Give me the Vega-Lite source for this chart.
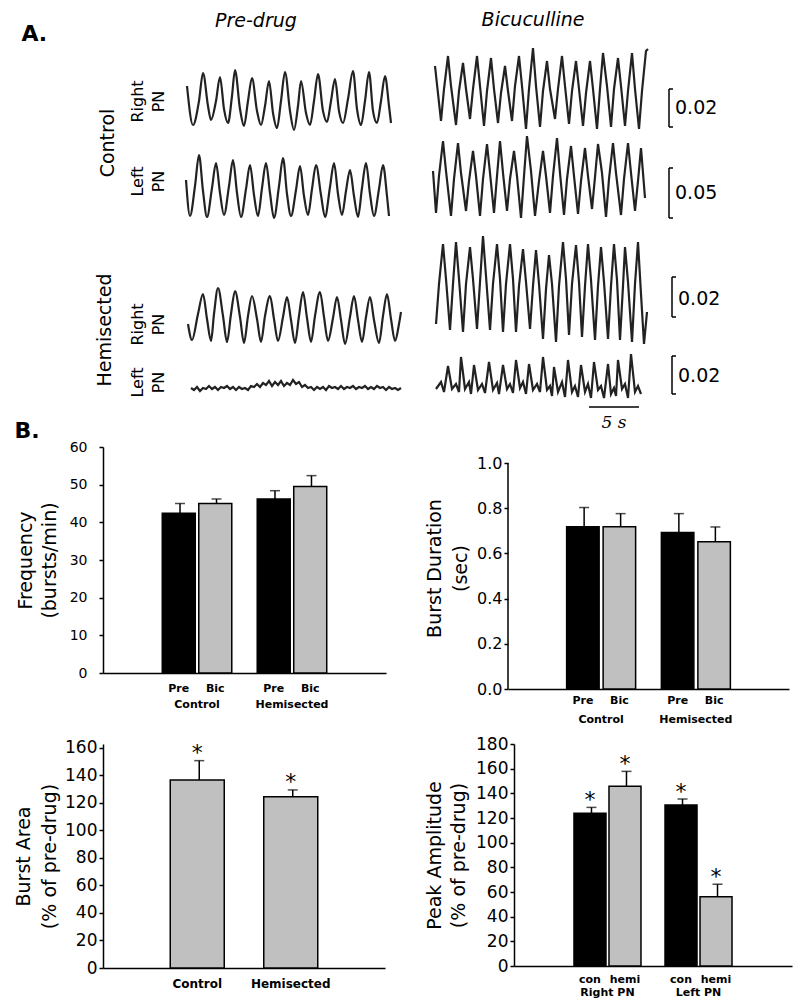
{
"$schema":"https://vega.github.io/schema/vega-lite/v6.json",
"background":"white",
"padding":{"left":14,"top":10,"right":5,"bottom":5},
"config":{
 "font":"DejaVu Sans",
 "view":{"stroke":null},
 "axis":{"grid":false,"labelOverlap":false,"domainColor":"black","tickColor":"black","labelColor":"black","titleColor":"black","titleFontWeight":"normal","labelFont":"DejaVu Sans","titleFont":"DejaVu Sans"},
 "title":{"color":"black","font":"DejaVu Sans","fontWeight":"normal"},
 "line":{"color":"#222","strokeWidth":2.2},
 "rule":{"color":"black"},
 "text":{"color":"black"}
},
"datasets":{
 "pre_cr":[{"t":0.1,"v":47},{"t":0.7,"v":8},{"t":1.3,"v":32},{"t":1.7,"v":60},{"t":2.2,"v":27},{"t":2.5,"v":13},{"t":3.0,"v":32},{"t":3.4,"v":56},{"t":3.8,"v":24},{"t":4.2,"v":10},{"t":4.6,"v":37},{"t":4.9,"v":63},{"t":5.4,"v":24},{"t":5.8,"v":7},{"t":6.2,"v":32},{"t":6.6,"v":55},{"t":7.1,"v":22},{"t":7.5,"v":8},{"t":7.9,"v":27},{"t":8.3,"v":52},{"t":8.7,"v":20},{"t":9.1,"v":5},{"t":9.5,"v":32},{"t":9.9,"v":61},{"t":10.4,"v":22},{"t":10.8,"v":3},{"t":11.2,"v":27},{"t":11.5,"v":52},{"t":12.0,"v":20},{"t":12.4,"v":8},{"t":12.8,"v":32},{"t":13.2,"v":59},{"t":13.7,"v":22},{"t":14.1,"v":11},{"t":14.5,"v":32},{"t":14.9,"v":54},{"t":15.3,"v":22},{"t":15.7,"v":10},{"t":16.2,"v":34},{"t":16.7,"v":62},{"t":17.1,"v":24},{"t":17.5,"v":8},{"t":17.9,"v":32},{"t":18.3,"v":61},{"t":18.7,"v":22},{"t":19.1,"v":10},{"t":19.5,"v":32},{"t":19.9,"v":57},{"t":20.3,"v":27},{"t":20.5,"v":10}],
 "pre_cl":[{"t":0.0,"v":41},{"t":0.4,"v":5},{"t":0.9,"v":35},{"t":1.3,"v":66},{"t":1.7,"v":30},{"t":2.1,"v":4},{"t":2.6,"v":33},{"t":3.0,"v":58},{"t":3.4,"v":28},{"t":3.8,"v":6},{"t":4.3,"v":35},{"t":4.7,"v":61},{"t":5.1,"v":28},{"t":5.5,"v":4},{"t":6.0,"v":32},{"t":6.4,"v":56},{"t":6.8,"v":26},{"t":7.2,"v":5},{"t":7.6,"v":33},{"t":8.0,"v":58},{"t":8.4,"v":28},{"t":8.8,"v":3},{"t":9.3,"v":35},{"t":9.7,"v":63},{"t":10.1,"v":27},{"t":10.5,"v":5},{"t":11.0,"v":31},{"t":11.4,"v":55},{"t":11.8,"v":25},{"t":12.2,"v":6},{"t":12.6,"v":32},{"t":13.0,"v":56},{"t":13.5,"v":26},{"t":13.9,"v":4},{"t":14.4,"v":34},{"t":14.8,"v":58},{"t":15.2,"v":27},{"t":15.6,"v":6},{"t":16.0,"v":30},{"t":16.4,"v":51},{"t":16.8,"v":25},{"t":17.2,"v":4},{"t":17.6,"v":33},{"t":18.0,"v":58},{"t":18.4,"v":27},{"t":18.8,"v":5},{"t":19.3,"v":32},{"t":19.7,"v":56},{"t":20.1,"v":25},{"t":20.3,"v":5}],
 "pre_hr":[{"t":0.2,"v":25},{"t":0.6,"v":9},{"t":1.2,"v":35},{"t":1.7,"v":55},{"t":2.1,"v":30},{"t":2.5,"v":8},{"t":2.8,"v":35},{"t":3.2,"v":61},{"t":3.7,"v":33},{"t":4.1,"v":7},{"t":4.5,"v":35},{"t":4.9,"v":58},{"t":5.4,"v":32},{"t":5.8,"v":6},{"t":6.2,"v":33},{"t":6.6,"v":53},{"t":7.1,"v":30},{"t":7.5,"v":7},{"t":7.9,"v":33},{"t":8.4,"v":53},{"t":8.8,"v":30},{"t":9.2,"v":8},{"t":9.7,"v":32},{"t":10.1,"v":52},{"t":10.5,"v":29},{"t":10.9,"v":6},{"t":11.3,"v":33},{"t":11.7,"v":57},{"t":12.1,"v":31},{"t":12.5,"v":7},{"t":12.9,"v":33},{"t":13.4,"v":57},{"t":13.8,"v":32},{"t":14.2,"v":8},{"t":14.7,"v":31},{"t":15.1,"v":52},{"t":15.5,"v":29},{"t":15.9,"v":5},{"t":16.4,"v":32},{"t":16.8,"v":53},{"t":17.2,"v":29},{"t":17.6,"v":7},{"t":18.0,"v":32},{"t":18.4,"v":52},{"t":18.8,"v":29},{"t":19.3,"v":6},{"t":19.7,"v":33},{"t":20.1,"v":55},{"t":20.5,"v":30},{"t":20.9,"v":8},{"t":21.3,"v":25},{"t":21.5,"v":37}],
 "pre_hl":[{"t":0.5,"v":14},{"t":0.8,"v":12},{"t":1.1,"v":15},{"t":1.4,"v":11},{"t":1.7,"v":14},{"t":2.0,"v":13},{"t":2.3,"v":16},{"t":2.6,"v":13},{"t":2.9,"v":15},{"t":3.2,"v":12},{"t":3.5,"v":15},{"t":3.8,"v":14},{"t":4.1,"v":16},{"t":4.4,"v":13},{"t":4.7,"v":15},{"t":5.0,"v":12},{"t":5.3,"v":15},{"t":5.6,"v":13},{"t":5.9,"v":14},{"t":6.2,"v":12},{"t":6.5,"v":16},{"t":6.8,"v":15},{"t":7.1,"v":18},{"t":7.4,"v":15},{"t":7.7,"v":19},{"t":8.0,"v":17},{"t":8.3,"v":21},{"t":8.6,"v":16},{"t":8.9,"v":20},{"t":9.2,"v":17},{"t":9.5,"v":21},{"t":9.8,"v":16},{"t":10.1,"v":19},{"t":10.4,"v":17},{"t":10.7,"v":22},{"t":11.0,"v":18},{"t":11.3,"v":20},{"t":11.6,"v":15},{"t":11.9,"v":17},{"t":12.2,"v":14},{"t":12.5,"v":15},{"t":12.8,"v":12},{"t":13.1,"v":15},{"t":13.4,"v":13},{"t":13.7,"v":15},{"t":14.0,"v":12},{"t":14.3,"v":16},{"t":14.6,"v":14},{"t":14.9,"v":15},{"t":15.2,"v":13},{"t":15.5,"v":16},{"t":15.8,"v":13},{"t":16.1,"v":15},{"t":16.4,"v":14},{"t":16.7,"v":16},{"t":17.0,"v":13},{"t":17.3,"v":15},{"t":17.6,"v":14},{"t":17.9,"v":16},{"t":18.2,"v":13},{"t":18.5,"v":15},{"t":18.8,"v":13},{"t":19.1,"v":16},{"t":19.4,"v":14},{"t":19.7,"v":15},{"t":20.0,"v":12},{"t":20.3,"v":15},{"t":20.6,"v":13},{"t":20.9,"v":14},{"t":21.2,"v":12},{"t":21.5,"v":14}],
 "bic_cr":[{"t":0.2,"v":67},{"t":0.8,"v":12},{"t":1.1,"v":44},{"t":1.5,"v":77},{"t":1.8,"v":47},{"t":2.3,"v":8},{"t":2.6,"v":42},{"t":3.0,"v":70},{"t":3.3,"v":44},{"t":3.7,"v":14},{"t":4.0,"v":44},{"t":4.4,"v":77},{"t":4.7,"v":47},{"t":5.1,"v":7},{"t":5.4,"v":42},{"t":5.8,"v":75},{"t":6.1,"v":44},{"t":6.5,"v":10},{"t":6.8,"v":40},{"t":7.2,"v":67},{"t":7.5,"v":42},{"t":7.9,"v":12},{"t":8.2,"v":47},{"t":8.6,"v":77},{"t":8.9,"v":47},{"t":9.3,"v":4},{"t":9.6,"v":44},{"t":10.0,"v":85},{"t":10.3,"v":47},{"t":10.7,"v":6},{"t":11.0,"v":42},{"t":11.4,"v":72},{"t":11.7,"v":44},{"t":12.2,"v":14},{"t":12.5,"v":44},{"t":12.9,"v":77},{"t":13.2,"v":47},{"t":13.6,"v":9},{"t":13.9,"v":42},{"t":14.3,"v":72},{"t":14.6,"v":44},{"t":15.0,"v":7},{"t":15.3,"v":40},{"t":15.7,"v":72},{"t":16.0,"v":44},{"t":16.4,"v":4},{"t":16.7,"v":44},{"t":17.0,"v":80},{"t":17.4,"v":47},{"t":17.8,"v":6},{"t":18.1,"v":44},{"t":18.5,"v":75},{"t":18.8,"v":47},{"t":19.2,"v":7},{"t":19.5,"v":42},{"t":19.9,"v":80},{"t":20.2,"v":44},{"t":20.6,"v":4},{"t":20.9,"v":42},{"t":21.3,"v":82},{"t":21.5,"v":84}],
 "bic_cl":[{"t":0.0,"v":50},{"t":0.3,"v":8},{"t":0.6,"v":45},{"t":1.0,"v":80},{"t":1.3,"v":50},{"t":1.8,"v":5},{"t":2.1,"v":42},{"t":2.5,"v":78},{"t":2.8,"v":48},{"t":3.3,"v":10},{"t":3.6,"v":40},{"t":4.0,"v":70},{"t":4.3,"v":45},{"t":4.7,"v":5},{"t":5.0,"v":42},{"t":5.4,"v":77},{"t":5.7,"v":48},{"t":6.1,"v":8},{"t":6.4,"v":45},{"t":6.7,"v":80},{"t":7.0,"v":48},{"t":7.4,"v":10},{"t":7.7,"v":42},{"t":8.1,"v":70},{"t":8.4,"v":45},{"t":8.8,"v":3},{"t":9.1,"v":45},{"t":9.4,"v":85},{"t":9.8,"v":50},{"t":10.2,"v":5},{"t":10.6,"v":40},{"t":11.0,"v":70},{"t":11.3,"v":45},{"t":11.7,"v":8},{"t":12.0,"v":45},{"t":12.4,"v":83},{"t":12.7,"v":48},{"t":13.1,"v":6},{"t":13.4,"v":42},{"t":13.8,"v":75},{"t":14.1,"v":45},{"t":14.5,"v":7},{"t":14.8,"v":40},{"t":15.2,"v":73},{"t":15.5,"v":45},{"t":15.9,"v":12},{"t":16.2,"v":44},{"t":16.5,"v":77},{"t":16.9,"v":48},{"t":17.3,"v":4},{"t":17.6,"v":42},{"t":18.0,"v":78},{"t":18.3,"v":48},{"t":18.8,"v":6},{"t":19.1,"v":42},{"t":19.5,"v":78},{"t":19.8,"v":48},{"t":20.2,"v":10},{"t":20.5,"v":40},{"t":20.8,"v":73},{"t":21.2,"v":23}],
 "bic_hr":[{"t":0.0,"v":25},{"t":0.3,"v":65},{"t":0.7,"v":105},{"t":1.0,"v":70},{"t":1.4,"v":19},{"t":1.7,"v":65},{"t":2.0,"v":107},{"t":2.3,"v":70},{"t":2.7,"v":17},{"t":3.0,"v":65},{"t":3.4,"v":102},{"t":3.7,"v":70},{"t":4.1,"v":20},{"t":4.4,"v":67},{"t":4.7,"v":113},{"t":5.0,"v":73},{"t":5.4,"v":19},{"t":5.7,"v":65},{"t":6.1,"v":105},{"t":6.4,"v":70},{"t":6.7,"v":17},{"t":7.0,"v":65},{"t":7.4,"v":105},{"t":7.7,"v":70},{"t":8.0,"v":17},{"t":8.3,"v":63},{"t":8.7,"v":100},{"t":9.0,"v":67},{"t":9.4,"v":20},{"t":9.7,"v":63},{"t":10.0,"v":99},{"t":10.3,"v":65},{"t":10.7,"v":10},{"t":11.0,"v":60},{"t":11.3,"v":94},{"t":11.6,"v":65},{"t":12.0,"v":7},{"t":12.3,"v":63},{"t":12.7,"v":107},{"t":13.0,"v":70},{"t":13.3,"v":14},{"t":13.6,"v":65},{"t":14.0,"v":104},{"t":14.3,"v":67},{"t":14.6,"v":12},{"t":14.9,"v":63},{"t":15.2,"v":105},{"t":15.5,"v":69},{"t":15.9,"v":9},{"t":16.2,"v":63},{"t":16.5,"v":102},{"t":16.8,"v":67},{"t":17.2,"v":10},{"t":17.5,"v":63},{"t":17.8,"v":105},{"t":18.1,"v":69},{"t":18.4,"v":9},{"t":18.7,"v":63},{"t":18.9,"v":102},{"t":19.2,"v":67},{"t":19.6,"v":7},{"t":19.9,"v":65},{"t":20.2,"v":107},{"t":20.5,"v":55},{"t":20.8,"v":5},{"t":21.1,"v":37}],
 "bic_hl":[{"t":0.0,"v":13},{"t":0.5,"v":20},{"t":0.8,"v":10},{"t":1.2,"v":36},{"t":1.6,"v":13},{"t":2.0,"v":18},{"t":2.3,"v":10},{"t":2.5,"v":45},{"t":2.9,"v":13},{"t":3.3,"v":20},{"t":3.5,"v":8},{"t":3.8,"v":37},{"t":4.2,"v":12},{"t":4.6,"v":18},{"t":4.9,"v":9},{"t":5.3,"v":40},{"t":5.7,"v":12},{"t":6.1,"v":19},{"t":6.3,"v":8},{"t":6.7,"v":37},{"t":7.1,"v":13},{"t":7.4,"v":18},{"t":7.7,"v":9},{"t":8.0,"v":42},{"t":8.4,"v":14},{"t":8.7,"v":20},{"t":9.0,"v":8},{"t":9.3,"v":38},{"t":9.7,"v":12},{"t":10.1,"v":18},{"t":10.4,"v":10},{"t":10.7,"v":45},{"t":11.1,"v":12},{"t":11.4,"v":16},{"t":11.6,"v":6},{"t":11.8,"v":35},{"t":12.2,"v":10},{"t":12.6,"v":20},{"t":12.9,"v":5},{"t":13.2,"v":42},{"t":13.6,"v":10},{"t":13.9,"v":16},{"t":14.2,"v":5},{"t":14.5,"v":37},{"t":14.9,"v":10},{"t":15.2,"v":18},{"t":15.5,"v":4},{"t":15.8,"v":40},{"t":16.2,"v":12},{"t":16.5,"v":16},{"t":16.8,"v":4},{"t":17.2,"v":38},{"t":17.5,"v":8},{"t":17.8,"v":14},{"t":18.0,"v":6},{"t":18.2,"v":42},{"t":18.6,"v":13},{"t":18.9,"v":18},{"t":19.2,"v":4},{"t":19.5,"v":48},{"t":19.9,"v":10},{"t":20.2,"v":16},{"t":20.5,"v":8}],
 "freq":[{"group":"Control","treat":"Pre","mean":42.4,"err":45.0},{"group":"Control","treat":"Bic","mean":45.0,"err":46.2},{"group":"Hemisected","treat":"Pre","mean":46.2,"err":48.4},{"group":"Hemisected","treat":"Bic","mean":49.5,"err":52.4}],
 "dur":[{"group":"Control","treat":"Pre","mean":0.718,"err":0.803},{"group":"Control","treat":"Bic","mean":0.718,"err":0.776},{"group":"Hemisected","treat":"Pre","mean":0.692,"err":0.776},{"group":"Hemisected","treat":"Bic","mean":0.652,"err":0.717}],
 "area":[{"group":"Control","mean":136.7,"err":150.8},{"group":"Hemisected","mean":124.6,"err":129.5}],
 "amp":[{"group":"Right PN","treat":"con","mean":123.8,"err":128.6},{"group":"Right PN","treat":"hemi","mean":145.7,"err":157.8},{"group":"Left PN","treat":"con","mean":130.5,"err":135.4},{"group":"Left PN","treat":"hemi","mean":56.1,"err":66.3}]
},
"vconcat":[
 {
  "title":{"text":"A.","orient":"left","angle":0,"anchor":"end","align":"right","baseline":"top","fontSize":22,"fontWeight":"bold","offset":23,"dy":13},
  "spacing":8,
  "vconcat":[
   {"spacing":25,"hconcat":[
    {"width":300,"height":176,
     "title":{"text":"Pre-drug","anchor":"start","dx":116,"fontSize":19,"fontStyle":"italic","offset":14},
     "resolve":{"scale":{"y":"independent"},"axis":{"y":"independent"}},
     "layer":[
      {"data":{"name":"pre_cr"},"mark":{"type":"line","interpolate":"monotone"},
       "encoding":{"x":{"field":"t","type":"quantitative","scale":{"domain":[-8.3,21.7],"nice":false,"zero":false},"axis":null},
        "y":{"field":"v","type":"quantitative","scale":{"domain":[-88,88],"nice":false,"zero":false},"axis":{"orient":"left","title":["Right","PN"],"labels":false,"ticks":false,"domain":false,"titleFontSize":16,"titleLineHeight":21,"titleX":42,"titleY":56}}}},
      {"data":{"name":"pre_cl"},"mark":{"type":"line","interpolate":"monotone"},
       "encoding":{"x":{"field":"t","type":"quantitative","scale":{"domain":[-8.3,21.7],"nice":false,"zero":false},"axis":null},
        "y":{"field":"v","type":"quantitative","scale":{"domain":[0,176],"nice":false,"zero":false},"axis":{"orient":"right","title":["Left","PN"],"labels":false,"ticks":false,"domain":false,"titleFontSize":16,"titleLineHeight":21,"titleAngle":270,"titleBaseline":"bottom","titleX":-258,"titleY":136}}}},
      {"data":{"values":[{"label":"Control"}]},"mark":{"type":"text","angle":270,"fontSize":19,"align":"center","baseline":"middle"},
       "encoding":{"x":{"datum":-7.8,"scale":{"domain":[-8.3,21.7],"nice":false,"zero":false}},"y":{"datum":78,"scale":{"domain":[0,176],"nice":false,"zero":false},"axis":null},"text":{"field":"label"}}}
     ]},
    {"width":290,"height":176,
     "title":{"text":"Bicuculline","anchor":"start","dx":53,"fontSize":19,"fontStyle":"italic","offset":14},
     "resolve":{"scale":{"y":"independent"}},
     "layer":[
      {"layer":[
        {"data":{"name":"bic_cr"},"mark":{"type":"line"},
         "encoding":{"x":{"field":"t","type":"quantitative","scale":{"domain":[0,29],"nice":false,"zero":false},"axis":null},
          "y":{"field":"v","type":"quantitative","scale":{"domain":[-88,88],"nice":false,"zero":false},"axis":null}}},
        {"data":{"values":[{"lo":6,"hi":44,"mid":25,"label":"0.02"}]},
         "layer":[
          {"mark":{"type":"rule","strokeWidth":1.5},"encoding":{"x":{"datum":23.6},"y":{"field":"lo","type":"quantitative"},"y2":{"field":"hi"}}},
          {"mark":{"type":"rule","strokeWidth":1.5},"encoding":{"x":{"datum":23.6},"x2":{"datum":24.0},"y":{"field":"hi","type":"quantitative"}}},
          {"mark":{"type":"rule","strokeWidth":1.5},"encoding":{"x":{"datum":23.6},"x2":{"datum":24.0},"y":{"field":"lo","type":"quantitative"}}},
          {"mark":{"type":"text","align":"left","baseline":"middle","fontSize":19},"encoding":{"x":{"datum":24.2},"y":{"field":"mid","type":"quantitative"},"text":{"field":"label"}}}
         ]}
      ]},
      {"layer":[
        {"data":{"name":"bic_cl"},"mark":{"type":"line"},
         "encoding":{"x":{"field":"t","type":"quantitative","scale":{"domain":[0,29],"nice":false,"zero":false},"axis":null},
          "y":{"field":"v","type":"quantitative","scale":{"domain":[0,176],"nice":false,"zero":false},"axis":null}}},
        {"data":{"values":[{"lo":3,"hi":53,"mid":28,"label":"0.05"}]},
         "layer":[
          {"mark":{"type":"rule","strokeWidth":1.5},"encoding":{"x":{"datum":23.6},"y":{"field":"lo","type":"quantitative"},"y2":{"field":"hi"}}},
          {"mark":{"type":"rule","strokeWidth":1.5},"encoding":{"x":{"datum":23.6},"x2":{"datum":24.0},"y":{"field":"hi","type":"quantitative"}}},
          {"mark":{"type":"rule","strokeWidth":1.5},"encoding":{"x":{"datum":23.6},"x2":{"datum":24.0},"y":{"field":"lo","type":"quantitative"}}},
          {"mark":{"type":"text","align":"left","baseline":"middle","fontSize":19},"encoding":{"x":{"datum":24.2},"y":{"field":"mid","type":"quantitative"},"text":{"field":"label"}}}
         ]}
      ]}
     ]}
   ]},
   {"spacing":25,"hconcat":[
    {"width":300,"height":170,
     "resolve":{"scale":{"y":"independent"},"axis":{"y":"independent"}},
     "layer":[
      {"data":{"name":"pre_hr"},"mark":{"type":"line","interpolate":"monotone"},
       "encoding":{"x":{"field":"t","type":"quantitative","scale":{"domain":[-8.3,21.7],"nice":false,"zero":false},"axis":null},
        "y":{"field":"v","type":"quantitative","scale":{"domain":[-53,117],"nice":false,"zero":false},"axis":{"orient":"left","title":["Right","PN"],"labels":false,"ticks":false,"domain":false,"titleFontSize":16,"titleLineHeight":21,"titleX":42,"titleY":92}}}},
      {"data":{"name":"pre_hl"},"mark":{"type":"line"},
       "encoding":{"x":{"field":"t","type":"quantitative","scale":{"domain":[-8.3,21.7],"nice":false,"zero":false},"axis":null},
        "y":{"field":"v","type":"quantitative","scale":{"domain":[0,170],"nice":false,"zero":false},"axis":{"orient":"right","title":["Left","PN"],"labels":false,"ticks":false,"domain":false,"titleFontSize":16,"titleLineHeight":21,"titleAngle":270,"titleBaseline":"bottom","titleX":-258,"titleY":150}}}},
      {"data":{"values":[{"label":"Hemisected"}]},"mark":{"type":"text","angle":270,"fontSize":19,"align":"center","baseline":"middle"},
       "encoding":{"x":{"datum":-8.1,"scale":{"domain":[-8.3,21.7],"nice":false,"zero":false}},"y":{"datum":72,"scale":{"domain":[0,170],"nice":false,"zero":false},"axis":null},"text":{"field":"label"}}}
     ]},
    {"width":290,"height":170,
     "resolve":{"scale":{"y":"independent"}},
     "layer":[
      {"layer":[
        {"data":{"name":"bic_hr"},"mark":{"type":"line"},
         "encoding":{"x":{"field":"t","type":"quantitative","scale":{"domain":[0,29],"nice":false,"zero":false},"axis":null},
          "y":{"field":"v","type":"quantitative","scale":{"domain":[-53,117],"nice":false,"zero":false},"axis":null}}},
        {"data":{"values":[{"lo":32,"hi":72,"mid":50,"label":"0.02"}]},
         "layer":[
          {"mark":{"type":"rule","strokeWidth":1.5},"encoding":{"x":{"datum":23.6},"y":{"field":"lo","type":"quantitative"},"y2":{"field":"hi"}}},
          {"mark":{"type":"rule","strokeWidth":1.5},"encoding":{"x":{"datum":23.6},"x2":{"datum":24.0},"y":{"field":"hi","type":"quantitative"}}},
          {"mark":{"type":"rule","strokeWidth":1.5},"encoding":{"x":{"datum":23.6},"x2":{"datum":24.0},"y":{"field":"lo","type":"quantitative"}}},
          {"mark":{"type":"text","align":"left","baseline":"middle","fontSize":19},"encoding":{"x":{"datum":24.2},"y":{"field":"mid","type":"quantitative"},"text":{"field":"label"}}}
         ]}
      ]},
      {"layer":[
        {"data":{"name":"bic_hl"},"mark":{"type":"line"},
         "encoding":{"x":{"field":"t","type":"quantitative","scale":{"domain":[0,29],"nice":false,"zero":false},"axis":null},
          "y":{"field":"v","type":"quantitative","scale":{"domain":[0,170],"nice":false,"zero":false},"axis":null}}},
        {"data":{"values":[{"lo":8,"hi":46,"mid":26,"label":"0.02"}]},
         "layer":[
          {"mark":{"type":"rule","strokeWidth":1.5},"encoding":{"x":{"datum":23.6},"y":{"field":"lo","type":"quantitative"},"y2":{"field":"hi"}}},
          {"mark":{"type":"rule","strokeWidth":1.5},"encoding":{"x":{"datum":23.6},"x2":{"datum":24.0},"y":{"field":"hi","type":"quantitative"}}},
          {"mark":{"type":"rule","strokeWidth":1.5},"encoding":{"x":{"datum":23.6},"x2":{"datum":24.0},"y":{"field":"lo","type":"quantitative"}}},
          {"mark":{"type":"text","align":"left","baseline":"middle","fontSize":19},"encoding":{"x":{"datum":24.2},"y":{"field":"mid","type":"quantitative"},"text":{"field":"label"}}},
          {"mark":{"type":"rule","strokeWidth":1.5},"encoding":{"x":{"datum":15.3},"x2":{"datum":20.3},"y":{"datum":-5}}},
          {"mark":{"type":"text","align":"center","baseline":"middle","fontSize":17,"font":"DejaVu Serif","fontStyle":"italic"},"encoding":{"x":{"datum":17.8},"y":{"datum":-21},"text":{"value":"5 s"}}}
         ]}
      ]}
     ]}
   ]}
  ]
 },
 {
  "title":{"text":"B.","anchor":"start","fontSize":22,"fontWeight":"bold","offset":0,"frame":"bounds","dy":3},
  "spacing":11,
  "vconcat":[
   {"spacing":39,"hconcat":[
    {"width":283,"height":226,"data":{"name":"freq"},
     "encoding":{
      "x":{"field":"group","type":"nominal","sort":null,"scale":{"paddingInner":0,"paddingOuter":0.49},"axis":{"title":null,"ticks":false,"labelAngle":0,"labelFontSize":11,"labelFontWeight":"bold","labelPadding":25,"domainWidth":1.5}}},
     "layer":[
      {"mark":{"type":"bar","width":33,"xOffset":-18.25,"fill":"black","stroke":"black","strokeWidth":1.5},"transform":[{"filter":"datum.treat === 'Pre'"}],
       "encoding":{"y":{"field":"mean","type":"quantitative","scale":{"domain":[0,60]},"axis":{"title":["Frequency","(bursts/min)"],"titleFontSize":19,"titleLineHeight":24,"titlePadding":10,"labelFontSize":14,"labelPadding":12,"labelOverlap":false,"labelBound":false,"tickSize":4,"values":[0,10,20,30,40,50,60],"tickCount":7,"domainWidth":1.5,"tickWidth":1.5}}}},
      {"mark":{"type":"bar","width":33,"xOffset":18.25,"fill":"#c0c0c0","stroke":"black","strokeWidth":1.5},"transform":[{"filter":"datum.treat === 'Bic'"}],
       "encoding":{"y":{"field":"mean","type":"quantitative","scale":{"domain":[0,60]}}}},
      {"transform":[{"filter":"datum.treat === 'Pre'"}],
       "layer":[
        {"mark":{"type":"rule","strokeWidth":1.5,"xOffset":-17},"encoding":{"y":{"field":"mean","type":"quantitative","scale":{"domain":[0,60]}},"y2":{"field":"err"}}},
        {"mark":{"type":"tick","thickness":1.5,"size":10,"color":"black","xOffset":-17},"encoding":{"y":{"field":"err","type":"quantitative","scale":{"domain":[0,60]}}}},
        {"mark":{"type":"text","fontSize":11,"fontWeight":"bold","baseline":"middle","xOffset":-18.25},"encoding":{"y":{"datum":-4.2,"scale":{"domain":[0,60]}},"text":{"field":"treat"}}}
       ]},
      {"transform":[{"filter":"datum.treat === 'Bic'"}],
       "layer":[
        {"mark":{"type":"rule","strokeWidth":1.5,"xOffset":19.5},"encoding":{"y":{"field":"mean","type":"quantitative","scale":{"domain":[0,60]}},"y2":{"field":"err"}}},
        {"mark":{"type":"tick","thickness":1.5,"size":10,"color":"black","xOffset":19.5},"encoding":{"y":{"field":"err","type":"quantitative","scale":{"domain":[0,60]}}}},
        {"mark":{"type":"text","fontSize":11,"fontWeight":"bold","baseline":"middle","xOffset":18.25},"encoding":{"y":{"datum":-4.2,"scale":{"domain":[0,60]}},"text":{"field":"treat"}}}
       ]}
     ]},
    {"width":281,"height":242,
     "resolve":{"scale":{"x":"independent"}},
     "layer":[
      {"data":{"name":"dur"},
       "encoding":{
        "x":{"field":"group","type":"nominal","sort":null,"scale":{"paddingInner":0,"paddingOuter":0.483},"axis":{"orient":"bottom","title":null,"ticks":false,"labelAngle":0,"labelFontSize":11,"labelFontWeight":"bold","labelPadding":24,"domainWidth":1.5}}},
       "layer":[
        {"mark":{"type":"bar","width":32.5,"xOffset":-18.25,"fill":"black","stroke":"black","strokeWidth":1.5},"transform":[{"filter":"datum.treat === 'Pre'"}],
         "encoding":{"y":{"field":"mean","type":"quantitative","scale":{"domain":[0,1.0708],"nice":false},"axis":{"title":["Burst Duration","(sec)"],"domain":false,"titleFontSize":19,"titleLineHeight":26,"titlePadding":6,"labelFontSize":16,"labelPadding":2,"labelOverlap":false,"tickSize":4,"values":[0,0.2,0.4,0.6,0.8,1.0],"tickCount":6,"format":".1f","tickWidth":1.5}}}},
        {"mark":{"type":"bar","width":32.5,"xOffset":18.25,"fill":"#c0c0c0","stroke":"black","strokeWidth":1.5},"transform":[{"filter":"datum.treat === 'Bic'"}],
         "encoding":{"y":{"field":"mean","type":"quantitative","scale":{"domain":[0,1.0708],"nice":false}}}},
        {"transform":[{"filter":"datum.treat === 'Pre'"}],
         "layer":[
          {"mark":{"type":"rule","strokeWidth":1.5,"xOffset":-17},"encoding":{"y":{"field":"mean","type":"quantitative","scale":{"domain":[0,1.0708],"nice":false}},"y2":{"field":"err"}}},
          {"mark":{"type":"tick","thickness":1.5,"size":10,"color":"black","xOffset":-17},"encoding":{"y":{"field":"err","type":"quantitative","scale":{"domain":[0,1.0708],"nice":false}}}},
          {"mark":{"type":"text","fontSize":11,"fontWeight":"bold","baseline":"middle","xOffset":-18.25},"encoding":{"y":{"datum":-0.053,"scale":{"domain":[0,1.0708],"nice":false}},"text":{"field":"treat"}}}
         ]},
        {"transform":[{"filter":"datum.treat === 'Bic'"}],
         "layer":[
          {"mark":{"type":"rule","strokeWidth":1.5,"xOffset":19.5},"encoding":{"y":{"field":"mean","type":"quantitative","scale":{"domain":[0,1.0708],"nice":false}},"y2":{"field":"err"}}},
          {"mark":{"type":"tick","thickness":1.5,"size":10,"color":"black","xOffset":19.5},"encoding":{"y":{"field":"err","type":"quantitative","scale":{"domain":[0,1.0708],"nice":false}}}},
          {"mark":{"type":"text","fontSize":11,"fontWeight":"bold","baseline":"middle","xOffset":18.25},"encoding":{"y":{"datum":-0.053,"scale":{"domain":[0,1.0708],"nice":false}},"text":{"field":"treat"}}}
         ]}
       ]},
      {"data":{"values":[{"axis":"y"}]},
       "mark":{"type":"rule","strokeWidth":1.5},
       "encoding":{"x":{"datum":0,"type":"quantitative","scale":{"domain":[0,1],"nice":false},"axis":null},"y":{"datum":0,"scale":{"domain":[0,1.0708],"nice":false}},"y2":{"datum":1.0}}}
     ]}
   ]},
   {"spacing":40,"hconcat":[
    {"width":282,"height":224,"data":{"name":"area"},
     "encoding":{
      "x":{"field":"group","type":"nominal","sort":null,"scale":{"paddingInner":0,"paddingOuter":0.508},"axis":{"title":null,"ticks":false,"labelAngle":0,"labelFontSize":12,"labelFontWeight":"bold","labelPadding":10,"domainWidth":1.5}}},
     "layer":[
      {"mark":{"type":"bar","width":54,"fill":"#c0c0c0","stroke":"black","strokeWidth":1.5},
       "encoding":{"y":{"field":"mean","type":"quantitative","scale":{"domain":[0,162.9],"nice":false},"axis":{"title":["Burst Area","(% of pre-drug)"],"titleFontSize":19,"titleLineHeight":26,"titlePadding":5,"labelFontSize":17,"labelPadding":2,"labelOverlap":false,"labelBound":false,"tickSize":4,"values":[0,20,40,60,80,100,120,140,160],"tickCount":9,"domainWidth":1.5,"tickWidth":1.5}}}},
      {"mark":{"type":"rule","strokeWidth":1.5,"xOffset":2},"encoding":{"y":{"field":"mean","type":"quantitative","scale":{"domain":[0,162.9],"nice":false}},"y2":{"field":"err"}}},
      {"mark":{"type":"tick","thickness":1.5,"size":10,"color":"black","xOffset":2},"encoding":{"y":{"field":"err","type":"quantitative","scale":{"domain":[0,162.9],"nice":false}}}},
      {"mark":{"type":"text","fontSize":22,"baseline":"alphabetic","dy":-1},"encoding":{"y":{"field":"err","type":"quantitative","scale":{"domain":[0,162.9],"nice":false}},"text":{"value":"*"}}}
     ]},
    {"width":278,"height":222,"data":{"name":"amp"},
     "encoding":{
      "x":{"field":"group","type":"nominal","sort":null,"scale":{"paddingInner":0,"paddingOuter":0.527},"axis":{"title":null,"ticks":false,"labelAngle":0,"labelFontSize":11,"labelFontWeight":"bold","labelPadding":20,"domainWidth":1.5}}},
     "layer":[
      {"mark":{"type":"bar","width":32,"xOffset":-17.5,"fill":"black","stroke":"black","strokeWidth":1.5},"transform":[{"filter":"datum.treat === 'con'"}],
       "encoding":{"y":{"field":"mean","type":"quantitative","scale":{"domain":[0,180]},"axis":{"title":["Peak Amplitude","(% of pre-drug)"],"titleFontSize":19,"titleLineHeight":24,"titlePadding":7,"labelFontSize":17,"labelPadding":2,"labelOverlap":false,"labelBound":false,"labelFlush":false,"tickSize":4,"values":[0,20,40,60,80,100,120,140,160,180],"tickCount":10,"domainWidth":1.5,"tickWidth":1.5}}}},
      {"mark":{"type":"bar","width":32,"xOffset":17.5,"fill":"#c0c0c0","stroke":"black","strokeWidth":1.5},"transform":[{"filter":"datum.treat === 'hemi'"}],
       "encoding":{"y":{"field":"mean","type":"quantitative","scale":{"domain":[0,180]}}}},
      {"transform":[{"filter":"datum.treat === 'con'"}],
       "layer":[
        {"mark":{"type":"rule","strokeWidth":1.5,"xOffset":-16},"encoding":{"y":{"field":"mean","type":"quantitative","scale":{"domain":[0,180]}},"y2":{"field":"err"}}},
        {"mark":{"type":"tick","thickness":1.5,"size":10,"color":"black","xOffset":-16},"encoding":{"y":{"field":"err","type":"quantitative","scale":{"domain":[0,180]}}}},
        {"mark":{"type":"text","fontSize":22,"baseline":"alphabetic","xOffset":-17.5},"encoding":{"y":{"field":"err","type":"quantitative","scale":{"domain":[0,180]}},"text":{"value":"*"}}},
        {"mark":{"type":"text","fontSize":11,"fontWeight":"bold","baseline":"middle","xOffset":-17.5},"encoding":{"y":{"datum":-11.4,"scale":{"domain":[0,180]}},"text":{"field":"treat"}}}
       ]},
      {"transform":[{"filter":"datum.treat === 'hemi'"}],
       "layer":[
        {"mark":{"type":"rule","strokeWidth":1.5,"xOffset":19},"encoding":{"y":{"field":"mean","type":"quantitative","scale":{"domain":[0,180]}},"y2":{"field":"err"}}},
        {"mark":{"type":"tick","thickness":1.5,"size":10,"color":"black","xOffset":19},"encoding":{"y":{"field":"err","type":"quantitative","scale":{"domain":[0,180]}}}},
        {"mark":{"type":"text","fontSize":22,"baseline":"alphabetic","xOffset":17.5},"encoding":{"y":{"field":"err","type":"quantitative","scale":{"domain":[0,180]}},"text":{"value":"*"}}},
        {"mark":{"type":"text","fontSize":11,"fontWeight":"bold","baseline":"middle","xOffset":17.5},"encoding":{"y":{"datum":-11.4,"scale":{"domain":[0,180]}},"text":{"field":"treat"}}}
       ]}
     ]}
   ]}
  ]
 }
],
"spacing":-11
}
